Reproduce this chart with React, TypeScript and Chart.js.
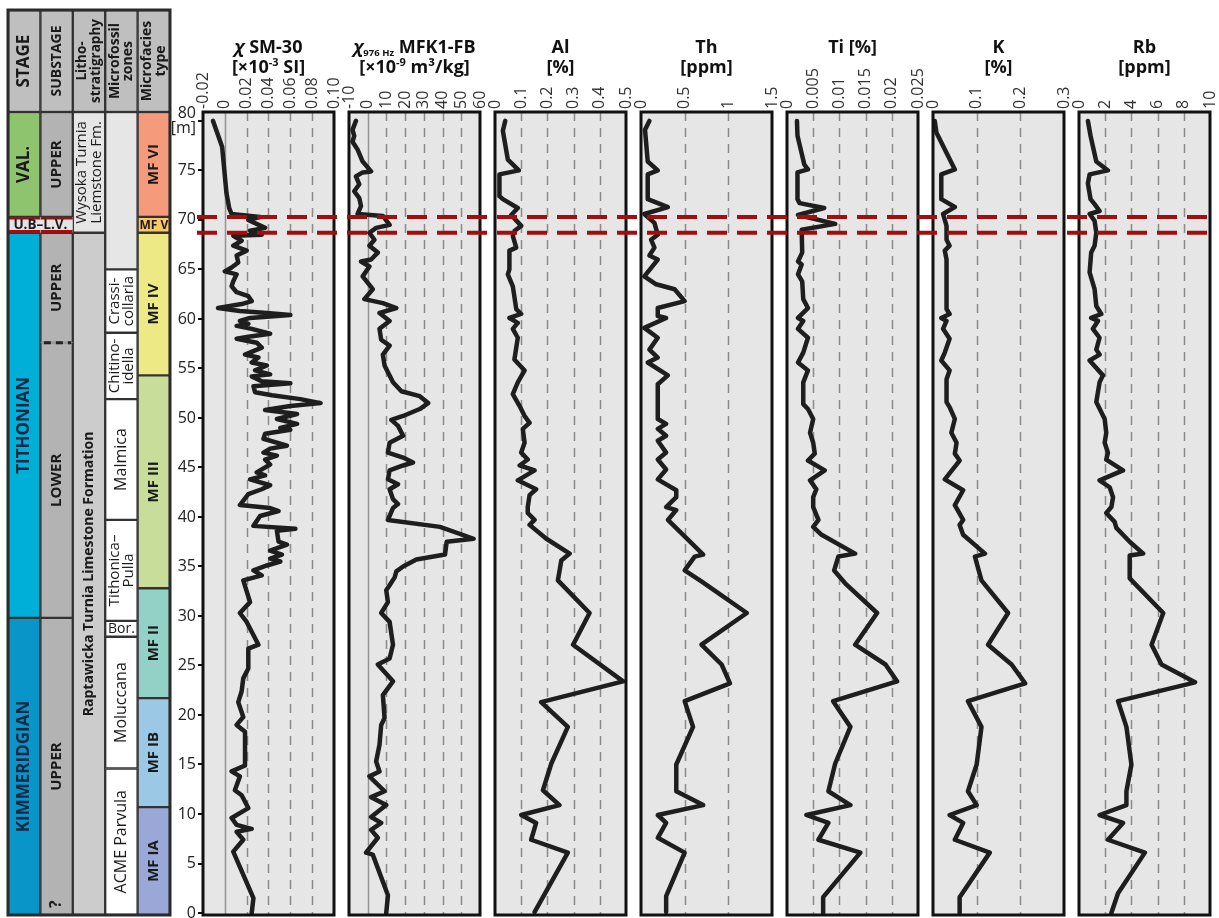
import React, { useEffect, useRef } from 'react';
import { Chart, registerables } from 'chart.js';

Chart.register(...registerables);

const FONT = '"Open Sans", "Noto Sans", "DejaVu Sans", sans-serif';

// ---------------- depth axis (m) ----------------
const DEPTH_MIN = -0.2;
const DEPTH_MAX = 80.9;
const HEADER_TOP = 91.2;
const depthTicks = [0, 5, 10, 15, 20, 25, 30, 35, 40, 45, 50, 55, 60, 65, 70, 75, 80];
const boundaryDepths = [70.3, 68.7];

// ---------------- stratigraphic columns ----------------
const columnHeaders = ['STAGE', 'SUBSTAGE', 'Litho-\nstratigraphy', 'Microfossil\nzones', 'Microfacies\ntype'];

const stageNames = ['VAL.', 'U.B–L.V.', 'TITHONIAN', 'KIMMERIDGIAN'];
const stageTops = [80.9, 70.3, 68.7, 29.8];
const stageBases = [70.3, 68.7, 29.8, -0.2];
const stageColors = ['#8fc46f', '#e3e3e3', '#00afd7', '#0a95c8'];

const substageNames = ['UPPER', '', 'UPPER', 'LOWER', 'UPPER'];
const substageTops = [80.9, 70.3, 68.7, 57.6, 29.8];
const substageBases = [70.3, 68.7, 57.6, 29.8, -0.2];
const substageColors = ['#b3b3b3', '#e3e3e3', '#b3b3b3', '#b3b3b3', '#b3b3b3'];
const uncertainMarks = [{ label: '?', depth: 0.9, column: 1 }];

const lithoNames = ['Wysoka Turnia\nLiemstone Fm.', 'Raptawicka Turnia Limestone Formation'];
const lithoTops = [80.9, 68.7];
const lithoBases = [68.7, -0.2];
const lithoColors = ['#e6e6e6', '#cccccc'];

const zoneNames = ['', 'Crassi-\ncollaria', 'Chitino-\nidella', 'Malmica', 'Tithonica–\nPulla', 'Bor.', 'Moluccana', 'ACME Parvula'];
const zoneTops = [80.9, 65.0, 58.6, 51.9, 39.7, 29.5, 27.9, 14.6];
const zoneBases = [65.0, 58.6, 51.9, 39.7, 29.5, 27.9, 14.6, -0.2];
const zoneColors = ['#e6e6e6', '#ffffff', '#ffffff', '#ffffff', '#ffffff', '#ffffff', '#ffffff', '#ffffff'];

const facieNames = ['MF VI', 'MF V', 'MF IV', 'MF III', 'MF II', 'MF IB', 'MF IA'];
const facieTops = [80.9, 70.3, 68.7, 54.3, 32.8, 21.7, 10.7];
const facieBases = [70.3, 68.7, 54.3, 32.8, 21.7, 10.7, -0.2];
const facieColors = ['#f59b7c', '#fbc863', '#ede985', '#c7dd99', '#93d1c7', '#9ac8e5', '#9aa8d8'];

const horizontalLabels = ['U.B–L.V.', 'Bor.', 'MF V'];

// ---------------- log profiles: [depth m, value] ----------------
const chiSmProfile: [number, number][] = [
  [80.0, -0.0108], [77.4, -0.0025], [72.7, 0.0015], [71.2, 0.004], [70.6, 0.0062], [70.3, 0.0323], [70.0, 0.0215],
  [69.2, 0.0369], [68.9, 0.023], [68.5, 0.0338], [68.4, 0.0077], [67.9, 0.0154], [67.4, 0.0077], [66.9, 0.02],
  [66.4, 0.0108], [65.7, 0.0123], [65.2, 0.0062], [64.8, 0.0], [64.5, 0.0108], [63.8, 0.0077], [63.3, 0.0062],
  [62.7, 0.0108], [62.3, 0.0215], [61.8, 0.0246], [61.5, 0.0154], [61.1, -0.0062], [60.8, 0.0138], [60.6, 0.0385],
  [60.4, 0.06], [60.1, 0.0231], [59.8, 0.0138], [59.5, 0.0215], [59.3, 0.0108], [59.0, 0.0246], [58.5, 0.0415],
  [58.2, 0.0215], [58.0, 0.0108], [57.6, 0.0292], [57.1, 0.0338], [56.4, 0.0185], [56.1, 0.0308], [55.6, 0.0246],
  [55.3, 0.0385], [54.8, 0.0277], [54.4, 0.0415], [54.2, 0.0246], [53.7, 0.0338], [53.5, 0.06], [53.2, 0.0262],
  [52.6, 0.0277], [52.3, 0.0431], [51.9, 0.0692], [51.5, 0.0877], [51.2, 0.06], [50.8, 0.0369], [50.4, 0.0662],
  [49.9, 0.0477], [49.4, 0.0662], [49.0, 0.0508], [48.8, 0.06], [48.4, 0.0369], [47.9, 0.0354], [47.2, 0.0569],
  [46.9, 0.0415], [46.5, 0.0354], [46.2, 0.0477], [45.8, 0.0369], [45.3, 0.0415], [44.5, 0.0292], [44.2, 0.0369],
  [43.8, 0.0231], [43.2, 0.0415], [42.8, 0.0338], [42.3, 0.0215], [41.2, 0.0138], [40.9, 0.0415], [40.6, 0.0492],
  [40.1, 0.0323], [39.1, 0.0262], [38.8, 0.0646], [38.6, 0.0477], [37.5, 0.0492], [37.2, 0.0569], [36.6, 0.0415],
  [36.2, 0.0523], [35.8, 0.0415], [35.5, 0.0508], [35.1, 0.0385], [34.6, 0.0262], [34.1, 0.0338], [33.6, 0.0169],
  [31.4, 0.0231], [30.3, 0.0138], [29.4, 0.02], [27.1, 0.0308], [26.7, 0.0215], [24.7, 0.0215], [23.7, 0.0169],
  [22.4, 0.0154], [21.3, 0.0123], [19.8, 0.0169], [19.0, 0.0108], [18.3, 0.0185], [14.9, 0.0185], [14.3, 0.0062],
  [13.8, 0.0138], [12.4, 0.0092], [11.9, 0.0154], [10.6, 0.0215], [9.6, 0.0062], [8.9, 0.0108], [8.5, 0.0246],
  [8.2, 0.0108], [7.4, 0.0169], [6.2, 0.0077], [1.5, 0.0262], [0.0, 0.0246],
];
const chiSmTicks = [-0.02, 0, 0.02, 0.04, 0.06, 0.08, 0.1];
const chiSmTickLabels = ['-0.02', '0', '0.02', '0.04', '0.06', '0.08', '0.10'];

const chiMfkProfile: [number, number][] = [
  [80.0, -6.3], [79.1, -8.1], [78.5, -7.2], [77.9, -8.1], [77.1, -5.4], [75.9, -2.7], [74.9, 1.8], [74.8, -2.7],
  [74.4, -6.3], [73.6, -4.5], [72.9, -7.2], [72.2, -4.5], [71.4, -3.6], [70.6, -5.4], [70.4, 8.1], [69.5, 11.7],
  [69.2, 4.5], [68.7, 0.9], [68.0, 3.6], [67.4, 0.9], [66.7, 5.4], [66.0, 1.8], [65.8, -3.6], [65.3, 0.9],
  [64.3, -2.7], [63.0, 2.7], [62.0, -1.8], [61.6, 8.1], [61.1, 15.3], [60.6, 6.3], [59.8, 11.7], [59.0, 6.3],
  [57.9, 7.2], [57.3, 11.7], [56.4, 8.1], [55.3, 9.0], [53.6, 13.5], [52.7, 18.0], [52.2, 27.8], [51.5, 32.3],
  [50.9, 27.8], [50.2, 18.9], [49.8, 12.6], [49.2, 16.2], [48.2, 18.9], [47.5, 11.7], [46.5, 10.8], [46.0, 18.9],
  [45.5, 24.2], [45.2, 18.9], [44.7, 11.7], [43.8, 10.8], [43.3, 16.2], [42.8, 11.7], [41.8, 13.5], [41.3, 16.2],
  [40.9, 13.5], [39.7, 10.8], [39.0, 38.6], [37.8, 56.6], [37.5, 42.2], [36.2, 41.3], [35.7, 26.0], [35.0, 18.9],
  [34.5, 15.3], [33.9, 14.4], [33.1, 11.7], [32.6, 9.9], [31.4, 10.8], [30.3, 7.2], [29.4, 11.7], [27.1, 13.5],
  [25.7, 11.7], [25.1, 5.4], [23.4, 13.5], [22.0, 8.1], [19.7, 9.0], [19.0, 7.2], [17.0, 6.3], [15.3, 4.5],
  [14.3, 6.3], [13.8, 0.9], [12.3, 9.0], [11.7, 1.8], [10.9, 9.9], [9.7, 1.8], [9.1, 7.2], [8.4, 1.8],
  [7.6, 5.4], [6.1, -0.9], [5.9, 2.7], [1.8, 10.8], [0.0, 9.9],
];
const chiMfkTicks = [-10, 0, 10, 20, 30, 40, 50, 60];
const chiMfkTickLabels = ['-10', '0', '10', '20', '30', '40', '50', '60'];

const alProfile: [number, number][] = [
  [80.0, 0.039], [79.0, 0.03], [76.1, 0.049], [75.0, 0.091], [74.6, 0.017], [72.4, 0.017], [72.1, 0.03],
  [71.2, 0.087], [70.5, 0.062], [69.4, 0.1], [68.9, 0.075], [68.4, 0.068], [67.2, 0.081], [66.9, 0.055],
  [65.0, 0.055], [64.5, 0.049], [63.3, 0.068], [61.0, 0.081], [60.5, 0.1], [60.1, 0.055], [59.6, 0.087],
  [59.0, 0.068], [58.1, 0.087], [55.9, 0.074], [54.8, 0.113], [53.6, 0.087], [52.4, 0.068], [51.2, 0.094],
  [50.2, 0.113], [49.5, 0.132], [48.9, 0.106], [47.5, 0.113], [46.5, 0.1], [45.8, 0.125], [45.2, 0.094],
  [44.7, 0.151], [43.7, 0.087], [42.8, 0.157], [42.2, 0.132], [41.0, 0.125], [40.4, 0.125], [39.7, 0.151],
  [39.2, 0.132], [37.8, 0.196], [36.3, 0.285], [35.6, 0.253], [33.6, 0.24], [30.3, 0.361], [27.1, 0.298],
  [23.4, 0.489], [21.3, 0.176], [18.8, 0.278], [15.1, 0.215], [12.4, 0.183], [10.9, 0.246], [9.9, 0.1],
  [9.1, 0.157], [7.4, 0.138], [6.1, 0.278], [0.1, 0.151],
];
const alTicks = [0, 0.1, 0.2, 0.3, 0.4, 0.5];
const alTickLabels = ['0', '0.1', '0.2', '0.3', '0.4', '0.5'];

const thProfile: [number, number][] = [
  [80.0, 0.096], [79.1, 0.046], [75.9, 0.077], [75.0, 0.192], [74.6, 0.077], [72.1, 0.077], [71.3, 0.308],
  [70.6, 0.038], [69.7, 0.154], [68.5, 0.192], [68.0, 0.115], [67.2, 0.154], [66.4, 0.096], [66.0, 0.192],
  [64.3, 0.038], [63.5, 0.173], [63.0, 0.385], [61.8, 0.5], [61.1, 0.192], [60.3, 0.192], [60.1, 0.288],
  [59.1, 0.038], [58.1, 0.192], [56.9, 0.096], [56.1, 0.192], [55.6, 0.077], [54.3, 0.308], [53.4, 0.192],
  [49.9, 0.192], [49.4, 0.288], [48.9, 0.192], [48.2, 0.288], [47.7, 0.192], [46.5, 0.288], [45.8, 0.192],
  [44.8, 0.288], [43.8, 0.192], [42.7, 0.404], [42.0, 0.404], [41.0, 0.288], [40.7, 0.404], [39.7, 0.308],
  [36.2, 0.712], [36.0, 0.615], [34.6, 0.5], [33.5, 0.692], [30.3, 1.212], [27.1, 0.692], [25.1, 0.923],
  [23.2, 1.019], [21.4, 0.5], [18.8, 0.596], [15.0, 0.404], [12.3, 0.404], [10.9, 0.712], [9.9, 0.192],
  [9.1, 0.288], [7.6, 0.192], [6.1, 0.5], [1.7, 0.288], [0.1, 0.288],
];
const thTicks = [0, 0.5, 1, 1.5];
const thTickLabels = ['0', '0.5', '1', '1.5'];

const tiProfile: [number, number][] = [
  [80.0, 0.0019], [78.5, 0.002], [75.6, 0.0033], [75.1, 0.004], [74.8, 0.002], [72.1, 0.002], [71.7, 0.0024],
  [71.2, 0.0071], [70.5, 0.0021], [69.6, 0.0092], [69.0, 0.0028], [66.7, 0.0029], [65.8, 0.0021], [65.5, 0.0028],
  [64.5, 0.0021], [63.8, 0.0029], [62.0, 0.0031], [61.1, 0.004], [60.1, 0.0021], [59.8, 0.0031], [59.0, 0.0021],
  [58.1, 0.004], [56.6, 0.0031], [55.6, 0.0021], [54.8, 0.004], [53.6, 0.0031], [51.4, 0.0031], [50.9, 0.004],
  [49.9, 0.005], [48.5, 0.0044], [47.5, 0.005], [46.4, 0.0053], [45.7, 0.004], [44.7, 0.0072], [43.7, 0.0044],
  [42.8, 0.0056], [42.0, 0.005], [41.0, 0.005], [39.7, 0.006], [39.0, 0.005], [38.2, 0.0066], [36.3, 0.013],
  [36.0, 0.0098], [34.6, 0.009], [33.3, 0.0111], [30.3, 0.0172], [27.1, 0.013], [25.1, 0.0188], [23.4, 0.021],
  [21.4, 0.0088], [18.8, 0.0121], [15.1, 0.0092], [12.3, 0.0079], [10.9, 0.0121], [9.9, 0.0037], [9.1, 0.0079],
  [7.4, 0.006], [6.1, 0.014], [1.6, 0.0069], [0.0, 0.0069],
];
const tiTicks = [0, 0.005, 0.01, 0.015, 0.02, 0.025];
const tiTickLabels = ['0', '0.005', '0.01', '0.015', '0.02', '0.025'];

const kProfile: [number, number][] = [
  [80.0, 0.004], [78.8, 0.008], [75.1, 0.05], [74.6, 0.019], [72.1, 0.019], [71.3, 0.05], [70.6, 0.023],
  [69.4, 0.031], [68.0, 0.031], [67.4, 0.038], [66.9, 0.027], [66.0, 0.031], [61.0, 0.031], [60.5, 0.038],
  [60.1, 0.019], [59.8, 0.031], [59.0, 0.023], [58.0, 0.038], [56.6, 0.027], [55.8, 0.019], [54.8, 0.038],
  [53.9, 0.031], [51.6, 0.031], [51.1, 0.038], [49.9, 0.05], [48.5, 0.042], [47.5, 0.054], [46.4, 0.05],
  [45.7, 0.061], [43.8, 0.027], [42.7, 0.069], [41.2, 0.05], [39.7, 0.069], [39.2, 0.061], [38.2, 0.069],
  [36.3, 0.119], [36.0, 0.096], [33.6, 0.111], [30.3, 0.172], [27.1, 0.126], [25.1, 0.18], [23.2, 0.211],
  [21.4, 0.08], [18.8, 0.111], [15.0, 0.1], [12.3, 0.08], [10.9, 0.1], [9.9, 0.038], [9.1, 0.069],
  [7.4, 0.05], [6.1, 0.13], [1.6, 0.061], [0.0, 0.061],
];
const kTicks = [0, 0.1, 0.2, 0.3];
const kTickLabels = ['0', '0.1', '0.2', '0.3'];

const rbProfile: [number, number][] = [
  [80.0, 0.68], [78.5, 0.88], [75.9, 1.32], [75.0, 2.21], [74.6, 0.81], [73.7, 0.68], [72.1, 0.88], [71.6, 1.19],
  [70.9, 1.57], [70.6, 0.81], [69.9, 1.19], [68.7, 1.32], [67.4, 1.19], [66.7, 0.93], [64.7, 0.81], [63.0, 1.19],
  [61.3, 1.32], [60.5, 1.7], [60.1, 0.93], [59.8, 1.45], [59.0, 1.06], [58.1, 1.57], [56.9, 1.32], [56.4, 1.57],
  [55.8, 0.81], [54.3, 1.83], [53.6, 1.57], [51.6, 1.32], [49.9, 1.96], [48.5, 2.08], [47.5, 1.96], [46.5, 2.21],
  [45.8, 2.08], [44.7, 3.36], [43.7, 1.57], [43.0, 2.34], [42.0, 2.6], [41.0, 2.47], [40.4, 2.08], [39.5, 2.72],
  [38.9, 2.85], [37.5, 3.87], [36.3, 4.9], [36.1, 3.87], [33.8, 3.87], [30.3, 6.43], [27.1, 5.54], [25.1, 6.3],
  [23.3, 8.86], [21.4, 2.98], [18.8, 3.62], [15.0, 4.0], [12.3, 3.62], [10.9, 3.62], [9.9, 1.57], [9.1, 3.36],
  [7.4, 2.21], [6.1, 5.03], [2.0, 2.98], [0.0, 2.47],
];
const rbTicks = [0, 2, 4, 6, 8, 10];
const rbTickLabels = ['0', '2', '4', '6', '8', '10'];

// ---------------- titles (text segments) ----------------
type Seg = { t: string; it?: boolean; sup?: boolean; sub?: boolean };
const chiSmTitle: Seg[][] = [[{ t: 'χ', it: true }, { t: ' SM-30' }], [{ t: '[×10' }, { t: '-3', sup: true }, { t: ' SI]' }]];
const chiMfkTitle: Seg[][] = [[{ t: 'χ', it: true }, { t: '976 Hz', sub: true }, { t: ' MFK1-FB' }], [{ t: '[×10' }, { t: '-9', sup: true }, { t: ' m³/kg]' }]];
const alTitle: Seg[][] = [[{ t: 'Al' }], [{ t: '[%]' }]];
const thTitle: Seg[][] = [[{ t: 'Th' }], [{ t: '[ppm]' }]];
const tiTitle: Seg[][] = [[{ t: 'Ti [%]' }]];
const kTitle: Seg[][] = [[{ t: 'K' }], [{ t: '[%]' }]];
const rbTitle: Seg[][] = [[{ t: 'Rb' }], [{ t: '[ppm]' }]];

const PANELS = [
  { title: chiSmTitle, profile: chiSmProfile, ticks: chiSmTicks, labels: chiSmTickLabels },
  { title: chiMfkTitle, profile: chiMfkProfile, ticks: chiMfkTicks, labels: chiMfkTickLabels },
  { title: alTitle, profile: alProfile, ticks: alTicks, labels: alTickLabels },
  { title: thTitle, profile: thProfile, ticks: thTicks, labels: thTickLabels },
  { title: tiTitle, profile: tiProfile, ticks: tiTicks, labels: tiTickLabels },
  { title: kTitle, profile: kProfile, ticks: kTicks, labels: kTickLabels },
  { title: rbTitle, profile: rbProfile, ticks: rbTicks, labels: rbTickLabels },
];

// ---------------- layout ----------------
const PAGE_W = 1219;
const PAGE_H = 918;
const PLOT_TOP = 112;
const PLOT_BOTTOM = 915;
const PLOT_W = 131;
const PLOT_STEP = 146;
const FIRST_PLOT_LEFT = 203;
const Y_AXIS_W = 35;
const SIDE = 14;

const panelGeom = PANELS.map((_, i) => {
  const plotLeft = FIRST_PLOT_LEFT + i * PLOT_STEP;
  const plotRight = plotLeft + PLOT_W;
  const canvasLeft = i === 0 ? plotLeft - Y_AXIS_W : plotLeft - SIDE;
  const canvasRight = Math.min(plotRight + SIDE, PAGE_W);
  return {
    canvasLeft,
    width: canvasRight - canvasLeft,
    padLeft: i === 0 ? 0 : SIDE,
    padRight: canvasRight - plotRight,
  };
});

function drawRich(ctx: CanvasRenderingContext2D, segs: Seg[], cx: number, baseline: number) {
  const fonts = segs.map((s) => `${s.it ? 'italic ' : ''}bold ${s.sup ? 11 : s.sub ? 9.5 : 18}px ${FONT}`);
  let total = 0;
  const widths = segs.map((s, i) => {
    ctx.font = fonts[i];
    const w = ctx.measureText(s.t).width;
    total += w;
    return w;
  });
  let x = cx - total / 2;
  ctx.textAlign = 'left';
  ctx.textBaseline = 'alphabetic';
  ctx.fillStyle = '#111';
  segs.forEach((s, i) => {
    ctx.font = fonts[i];
    ctx.fillText(s.t, x, baseline + (s.sup ? -7 : s.sub ? 3 : 0));
    x += widths[i];
  });
}

function panelConfig(p: (typeof PANELS)[number], i: number): any {
  const g = panelGeom[i];
  const first = i === 0;
  const last = i === PANELS.length - 1;
  const deco = {
    id: 'panelDeco',
    beforeDatasetsDraw(chart: any) {
      const { ctx, chartArea: a } = chart;
      const xs = chart.scales.x;
      ctx.save();
      ctx.fillStyle = '#e6e6e6';
      ctx.fillRect(a.left, a.top, a.right - a.left, a.bottom - a.top);
      ctx.lineWidth = 1.5;
      p.ticks.forEach((v, k) => {
        if (k === 0 || k === p.ticks.length - 1) return;
        const px = Math.round(xs.getPixelForValue(v)) + 0.5;
        ctx.strokeStyle = v === 0 ? '#939393' : '#8a8a8a';
        ctx.setLineDash(v === 0 ? [] : [9, 7]);
        ctx.beginPath();
        ctx.moveTo(px, a.top);
        ctx.lineTo(px, a.bottom);
        ctx.stroke();
      });
      ctx.restore();
    },
    afterDraw(chart: any) {
      const { ctx, chartArea: a } = chart;
      const xs = chart.scales.x;
      const ys = chart.scales.y;
      ctx.save();
      ctx.setLineDash([]);
      ctx.strokeStyle = '#111';
      ctx.lineWidth = 3;
      ctx.strokeRect(a.left, a.top, a.right - a.left, a.bottom - a.top);
      // event boundaries
      const x0 = a.left - (first ? 6 : 7);
      const x1 = a.right + (last ? 2 : 8);
      ctx.strokeStyle = '#a30d0d';
      ctx.lineWidth = 4;
      boundaryDepths.forEach((d) => {
        const y = ys.getPixelForValue(d);
        ctx.setLineDash([20, 10]);
        ctx.lineDashOffset = (((g.canvasLeft + x0 - 17) % 30) + 30) % 30;
        ctx.beginPath();
        ctx.moveTo(x0, y);
        ctx.lineTo(x1, y);
        ctx.stroke();
      });
      ctx.setLineDash([]);
      // top tick labels
      ctx.fillStyle = '#333';
      ctx.font = `16px ${FONT}`;
      ctx.textAlign = 'left';
      ctx.textBaseline = 'middle';
      p.ticks.forEach((v, k) => {
        const px = xs.getPixelForValue(v);
        ctx.save();
        ctx.translate(px, a.top - 3);
        ctx.rotate(-Math.PI / 2);
        ctx.fillText(p.labels[k], 0, 0);
        ctx.restore();
      });
      const cx = (a.left + a.right) / 2;
      p.title.forEach((line, li) => drawRich(ctx, line, cx, 53 + li * 20));
      ctx.restore();
    },
  };
  const yScale: any = {
    type: 'linear',
    min: DEPTH_MIN,
    max: DEPTH_MAX,
    display: first,
    position: 'left',
  };
  if (first) {
    Object.assign(yScale, {
      afterBuildTicks: (s: any) => {
        s.ticks = depthTicks.map((v) => ({ value: v }));
      },
      afterFit: (s: any) => {
        s.width = Y_AXIS_W;
        s.paddingTop = 0;
        s.paddingBottom = 0;
      },
      ticks: {
        font: { family: FONT, size: 16, lineHeight: 0.95 },
        color: '#222',
        padding: 2,
        callback: (v: number) => (v === 80 ? ['80', '[m]'] : String(v)),
      },
      grid: { drawOnChartArea: false, drawTicks: true, tickLength: 5, color: '#111', lineWidth: 2 },
      border: { display: false },
    });
  }
  return {
    type: 'line',
    data: {
      datasets: [
        {
          data: p.profile.map(([d, v]) => ({ x: v, y: d })),
          borderColor: '#1e1e1e',
          borderWidth: 4.5,
          pointRadius: 0,
          tension: 0,
          fill: false,
          borderJoinStyle: 'round',
          borderCapStyle: 'round',
        },
      ],
    },
    options: {
      responsive: false,
      animation: false,
      devicePixelRatio: 1,
      events: [],
      layout: { padding: { left: g.padLeft, right: g.padRight, top: PLOT_TOP, bottom: PAGE_H - PLOT_BOTTOM } },
      plugins: { legend: { display: false }, tooltip: { enabled: false } },
      scales: {
        x: { type: 'linear', min: p.ticks[0], max: p.ticks[p.ticks.length - 1], display: false },
        y: yScale,
      },
    },
    plugins: [deco],
  };
}

// ---------------- stratigraphic column chart ----------------
const stratColumns = [
  { names: stageNames, tops: stageTops, bases: stageBases, colors: stageColors },
  { names: substageNames, tops: substageTops, bases: substageBases, colors: substageColors },
  { names: lithoNames, tops: lithoTops, bases: lithoBases, colors: lithoColors },
  { names: zoneNames, tops: zoneTops, bases: zoneBases, colors: zoneColors },
  { names: facieNames, tops: facieTops, bases: facieBases, colors: facieColors },
];

function labelFont(col: number, name: string): string {
  const multi = name.includes('\n');
  if (col === 0) return `bold 17px ${FONT}`;
  if (col === 1) return `bold 15px ${FONT}`;
  if (col === 2) return multi ? `15px ${FONT}` : `bold 14px ${FONT}`;
  if (col === 3) return multi ? `15px ${FONT}` : name === 'Bor.' ? `14px ${FONT}` : `16px ${FONT}`;
  return name === 'MF V' ? `bold 12px ${FONT}` : `bold 15px ${FONT}`;
}

function drawLabel(ctx: CanvasRenderingContext2D, text: string, cx: number, cy: number, rotate: boolean, font: string, color: string, gap: number) {
  const lines = text.split('\n');
  ctx.save();
  ctx.translate(cx, cy);
  if (rotate) ctx.rotate(-Math.PI / 2);
  ctx.font = font;
  ctx.fillStyle = color;
  ctx.textAlign = 'center';
  ctx.textBaseline = 'middle';
  const n = lines.length;
  lines.forEach((l, i) => ctx.fillText(l, 0, (i - (n - 1) / 2) * gap));
  ctx.restore();
}

function stratConfig(): any {
  const maxUnits = Math.max(...stratColumns.map((c) => c.names.length));
  const isUBLV = (k: number, col: number) => (col === 0 || col === 1) && k === 1;
  const datasets: any[] = [];
  const common = {
    barPercentage: 1,
    categoryPercentage: 1,
    grouped: false,
    borderSkipped: false,
  };
  datasets.push({
    ...common,
    data: columnHeaders.map(() => [DEPTH_MAX, HEADER_TOP]),
    backgroundColor: '#bfbfbf',
    borderColor: '#333',
    borderWidth: 1.5,
  });
  for (let k = 0; k < maxUnits; k++) {
    datasets.push({
      ...common,
      data: stratColumns.map((c) => (k < c.names.length ? [c.bases[k], c.tops[k]] : null)),
      backgroundColor: stratColumns.map((c) => c.colors[k] || 'rgba(0,0,0,0)'),
      borderColor: (ctx: any) => (isUBLV(k, ctx.dataIndex) ? '#a30d0d' : '#333'),
      borderWidth: (ctx: any) => {
        const col = ctx.dataIndex;
        if (isUBLV(k, col)) return { top: 3, bottom: 3, left: 0, right: 0 };
        if (col === 1 && k === 2) return { top: 1.5, bottom: 0, left: 1.5, right: 1.5 };
        if (col === 1 && k === 3) return { top: 0, bottom: 1.5, left: 1.5, right: 1.5 };
        return 1.5;
      },
    });
  }
  const labels = {
    id: 'stratLabels',
    afterDatasetsDraw(chart: any) {
      const { ctx, chartArea: a } = chart;
      const ys = chart.scales.y;
      ctx.save();
      // header labels
      const hMeta = chart.getDatasetMeta(0);
      const headerSizes = [17, 14, 13.5, 14, 14];
      columnHeaders.forEach((h, col) => {
        const el = hMeta.data[col].getProps(['x', 'y', 'base'], true);
        drawLabel(ctx, h, el.x, (el.y + el.base) / 2, true, `bold ${headerSizes[col]}px ${FONT}`, '#1a1a1a', 13.5);
      });
      // unit labels
      stratColumns.forEach((c, col) => {
        c.names.forEach((name, k) => {
          if (!name) return;
          const meta = chart.getDatasetMeta(k + 1);
          const el = meta.data[col].getProps(['x', 'y', 'base', 'width'], true);
          let cx = el.x;
          const cy = (el.y + el.base) / 2;
          if (isUBLV(k, col)) {
            const el2 = chart.getDatasetMeta(k + 1).data[1].getProps(['x', 'width'], true);
            cx = (el.x - el.width / 2 + el2.x + el2.width / 2) / 2;
            drawLabel(ctx, name, cx, cy + 0.5, false, `bold 13.5px ${FONT}`, '#1a1a1a', 14);
            return;
          }
          const horiz = horizontalLabels.includes(name);
          const color = col === 0 && k >= 2 ? '#0e2a47' : '#1a1a1a';
          const gap = col === 2 ? 15 : 14;
          drawLabel(ctx, name, cx, cy + (horiz ? 0.5 : 0), !horiz, labelFont(col, name), color, gap);
        });
      });
      // uncertain marks
      uncertainMarks.forEach((m) => {
        const el = chart.getDatasetMeta(1).data[m.column].getProps(['x'], true);
        drawLabel(ctx, m.label, el.x, ys.getPixelForValue(m.depth), true, `bold 16px ${FONT}`, '#1a1a1a', 14);
      });
      // uncertain substage boundary (dashed)
      {
        const el = chart.getDatasetMeta(3).data[1].getProps(['x', 'width'], true);
        const y = ys.getPixelForValue(substageBases[2]);
        const l = el.x - el.width / 2 + 1.5;
        const r = el.x + el.width / 2 - 1.5;
        ctx.lineWidth = 3;
        ctx.strokeStyle = '#9c9c9c';
        ctx.beginPath();
        ctx.moveTo(l, y);
        ctx.lineTo(r, y);
        ctx.stroke();
        ctx.strokeStyle = '#222';
        ctx.setLineDash([7, 5]);
        ctx.lineDashOffset = -2;
        ctx.beginPath();
        ctx.moveTo(l, y);
        ctx.lineTo(r, y);
        ctx.stroke();
        ctx.setLineDash([]);
      }
      // outer frame
      ctx.strokeStyle = '#2b2b2b';
      ctx.lineWidth = 3;
      ctx.strokeRect(a.left, a.top, a.right - a.left, a.bottom - a.top);
      ctx.restore();
    },
  };
  return {
    type: 'bar',
    data: { labels: columnHeaders, datasets },
    options: {
      responsive: false,
      animation: false,
      devicePixelRatio: 1,
      events: [],
      layout: { padding: { left: 8, right: 10, top: 10, bottom: PAGE_H - PLOT_BOTTOM } },
      plugins: { legend: { display: false }, tooltip: { enabled: false } },
      scales: {
        x: { display: false, offset: true },
        y: { display: false, min: DEPTH_MIN, max: HEADER_TOP },
      },
    },
    plugins: [labels],
  };
}

export default function App() {
  const stratRef = useRef<HTMLCanvasElement | null>(null);
  const panelRefs = useRef<(HTMLCanvasElement | null)[]>([]);

  useEffect(() => {
    const charts: Chart[] = [];
    if (stratRef.current) charts.push(new Chart(stratRef.current, stratConfig()));
    PANELS.forEach((p, i) => {
      const c = panelRefs.current[i];
      if (c) charts.push(new Chart(c, panelConfig(p, i)));
    });
    return () => charts.forEach((c) => c.destroy());
  }, []);

  return (
    <div style={{ position: 'absolute', left: 0, top: 0, width: PAGE_W, height: PAGE_H, background: '#fff', overflow: 'hidden' }}>
      <canvas ref={stratRef} width={180} height={PAGE_H} style={{ position: 'absolute', left: 0, top: 0 }} />
      {PANELS.map((_, i) => (
        <canvas
          key={i}
          ref={(el) => {
            panelRefs.current[i] = el;
          }}
          width={panelGeom[i].width}
          height={PAGE_H}
          style={{ position: 'absolute', left: panelGeom[i].canvasLeft, top: 0 }}
        />
      ))}
    </div>
  );
}
